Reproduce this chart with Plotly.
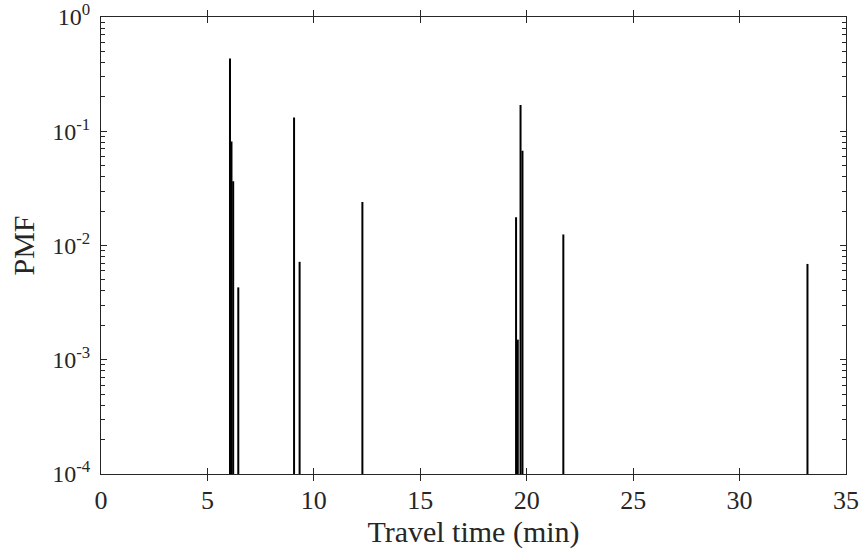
import plotly.graph_objects as go

# Travel-time probability mass function (minutes, probability)
travel_time = [6.06, 6.13, 6.21, 6.45, 9.07, 9.33, 12.28,
               19.50, 19.58, 19.71, 19.80, 21.72, 33.19]
pmf = [0.433, 0.0814, 0.0365, 0.0043, 0.132, 0.0072, 0.0241,
       0.0177, 0.0015, 0.17, 0.0676, 0.0125, 0.0069]

y_floor = 1e-4
y_tick_vals = [1e-4, 1e-3, 1e-2, 1e-1, 1]
y_tick_text = ["10<sup>-4</sup>", "10<sup>-3</sup>", "10<sup>-2</sup>",
               "10<sup>-1</sup>", "10<sup>0</sup>"]
x_tick_vals = [0, 5, 10, 15, 20, 25, 30, 35]

# stems from the axis floor up to each probability
xs, ys = [], []
for t, p in zip(travel_time, pmf):
    xs += [t, t, None]
    ys += [y_floor, p, None]

minor_vals = [m * 10 ** e for e in range(-4, 0) for m in range(2, 10)]

fig = go.Figure(go.Scatter(x=xs, y=ys, mode="lines",
                           line=dict(color="black", width=2),
                           hoverinfo="skip", showlegend=False))

font = "Liberation Serif"
ink = "#262626"
y_range = [-4, 0.0005]
axis_common = dict(showline=True, linecolor=ink, linewidth=1,
                   mirror="allticks", ticks="inside", ticklen=6,
                   tickcolor=ink, showgrid=False, zeroline=False,
                   automargin=False, ticklabeloverflow="allow")

fig.update_xaxes(range=[0, 35], tickmode="array", tickvals=x_tick_vals,
                 tickfont=dict(family=font, size=26, color=ink),
                 title=dict(text="Travel time (min)", standoff=4,
                            font=dict(family=font, size=30, color=ink)),
                 ticklabelstandoff=3, **axis_common)
fig.update_yaxes(type="log", range=y_range, tickmode="array",
                 tickvals=y_tick_vals, ticktext=y_tick_text,
                 tickfont=dict(family=font, size=24, color=ink),
                 title=dict(text="PMF", standoff=8,
                            font=dict(family=font, size=30, color=ink)),
                 ticklabelstandoff=5, **axis_common)

# minor log ticks on a companion axis sharing the same scale
fig.update_layout(yaxis2=dict(type="log", range=y_range, overlaying="y",
                              side="left", tickmode="array",
                              tickvals=minor_vals, showticklabels=False,
                              ticks="inside", ticklen=4, tickcolor=ink,
                              mirror="ticks", showline=False,
                              showgrid=False, zeroline=False,
                              automargin=False))
fig.add_trace(go.Scatter(x=[None], y=[None], yaxis="y2",
                         hoverinfo="skip", showlegend=False))

fig.update_layout(width=860, height=554,
                  margin=dict(l=101, r=14, t=17, b=80),
                  paper_bgcolor="white", plot_bgcolor="white")

fig.write_html("out.html")
